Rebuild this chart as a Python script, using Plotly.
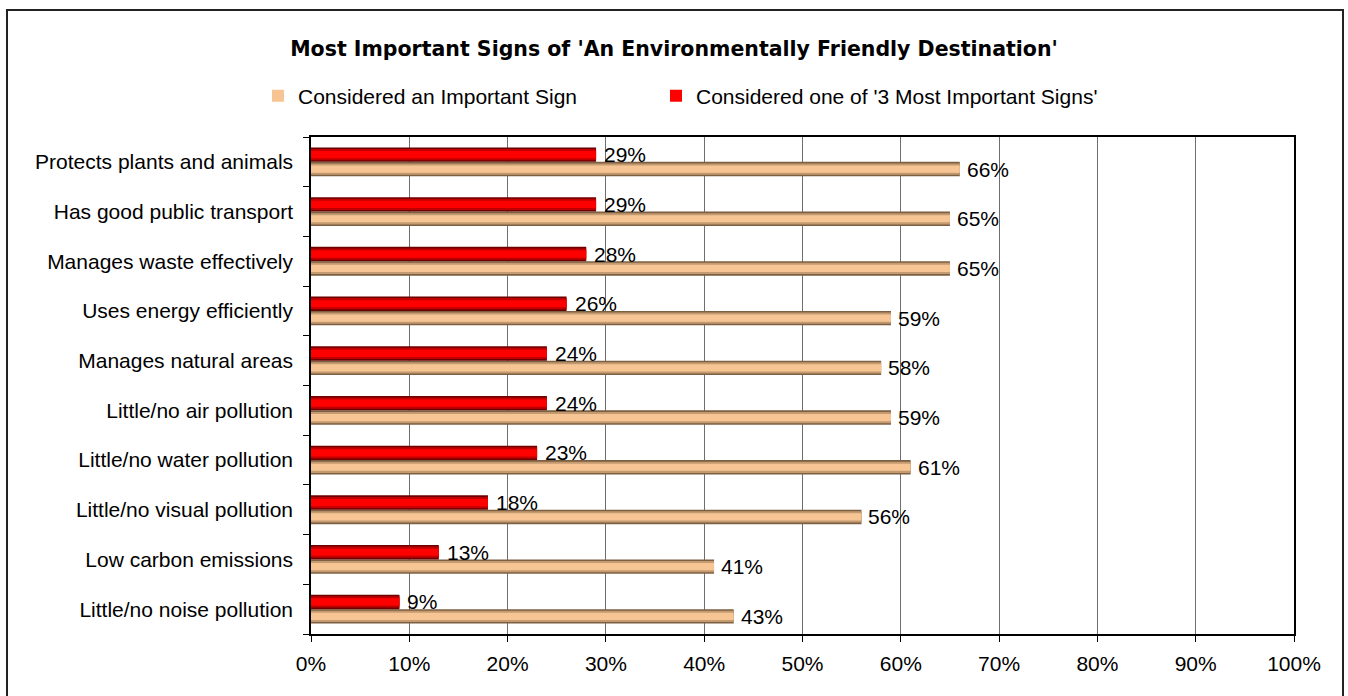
import plotly.graph_objects as go

categories = [
    "Protects plants and animals",
    "Has good public transport",
    "Manages waste effectively",
    "Uses energy efficiently",
    "Manages natural areas",
    "Little/no air pollution",
    "Little/no water pollution",
    "Little/no visual pollution",
    "Low carbon emissions",
    "Little/no noise pollution",
]
important_sign = [66, 65, 65, 59, 58, 59, 61, 56, 41, 43]
top3_sign = [29, 29, 28, 26, 24, 24, 23, 18, 13, 9]
x_ticks = list(range(0, 101, 10))
x_tick_labels = [f"{v}%" for v in x_ticks]

n = len(categories)
ypos = [n - 1 - i for i in range(n)]
BW = 0.29

FONT = "Liberation Sans, Arial, sans-serif"
FS = 21

fig = go.Figure()

def add_series(vals, name, colors, base_offset, legend_id):
    # layered bars to imitate the cylinder-like gradient
    fracs = [1.0, 0.78, 0.5]
    for k, (frac, col) in enumerate(zip(fracs, colors)):
        w = BW * frac
        off = base_offset + (BW - w) / 2
        fig.add_trace(go.Bar(
            y=ypos, x=vals, orientation="h",
            width=[w] * n, offset=[off] * n,
            marker=dict(color=col, line=dict(width=0)),
            name=name, showlegend=(k == 2), legendgroup=name,
            legend=legend_id, hoverinfo="x",
        ))

add_series(important_sign, "Considered an Important Sign",
           ["#7d5f42", "#c49a70", "#f6c593"], -BW, "legend")
add_series(top3_sign, "Considered one of '3 Most Important Signs'",
           ["#6e0000", "#c00000", "#ff0000"], 0.0, "legend2")

annotations = []
for y, v in zip(ypos, top3_sign):
    annotations.append(dict(x=v, y=y + BW / 2, text=f"{v}%", showarrow=False,
                            xanchor="left", yanchor="middle", xshift=6,
                            font=dict(family=FONT, size=FS, color="#000")))
for y, v in zip(ypos, important_sign):
    annotations.append(dict(x=v, y=y - BW / 2, text=f"{v}%", showarrow=False,
                            xanchor="left", yanchor="middle", xshift=5,
                            font=dict(family=FONT, size=FS, color="#000")))

L, R, T, B = 311, 54, 137, 62
W, H = 1348, 696
pw, ph = W - L - R, H - T - B

def px2paper_x(px):
    return (px - L) / pw

def px2paper_y(py):
    return (H - B - py) / ph

shapes = [dict(type="rect", xref="paper", yref="paper",
               x0=px2paper_x(7), x1=px2paper_x(1343),
               y0=px2paper_y(720), y1=px2paper_y(10),
               line=dict(color="#222", width=2), fillcolor="rgba(0,0,0,0)",
               layer="below")]

legend_common = dict(orientation="h", xanchor="left", yanchor="middle",
                     y=px2paper_y(96),
                     font=dict(family=FONT, size=FS, color="#000"),
                     itemwidth=30, bgcolor="rgba(0,0,0,0)")

fig.update_layout(
    width=W, height=H,
    margin=dict(l=L, r=R, t=T, b=B, pad=0),
    barmode="overlay",
    paper_bgcolor="white", plot_bgcolor="white",
    font=dict(family=FONT, size=FS, color="#000"),
    title=dict(text="Most Important Signs of 'An Environmentally Friendly Destination'",
               x=0.5, xanchor="center", y=1 - 49 / H, yanchor="middle",
               font=dict(family="DejaVu Sans", size=20.5, color="#000", weight="bold")),
    legend=dict(x=px2paper_x(258), **legend_common),
    legend2=dict(x=px2paper_x(656), **legend_common),
    xaxis=dict(range=[0, 100], tickvals=x_ticks, ticktext=x_tick_labels,
               showgrid=True, gridcolor="#6e6e6e", gridwidth=1,
               showline=True, linecolor="#000", linewidth=1.5, mirror=True,
               ticks="outside", ticklen=6, tickcolor="#000",
               ticklabelstandoff=4,
               tickfont=dict(family=FONT, size=FS, color="#000"),
               zeroline=False, fixedrange=True),
    yaxis=dict(range=[-0.5, n - 0.5], tickvals=ypos, ticktext=categories,
               showgrid=False, showline=True, linecolor="#000", linewidth=1.5,
               mirror=True, ticks="outside", ticklen=12,
               tickcolor="rgba(0,0,0,0)",
               minor=dict(tickvals=[v - 0.5 for v in range(n + 1)],
                          ticks="outside", ticklen=6, tickcolor="#000",
                          showgrid=False),
               tickfont=dict(family=FONT, size=FS, color="#000"),
               zeroline=False, fixedrange=True),
    annotations=annotations,
    shapes=shapes,
)

fig.write_html("out.html")
